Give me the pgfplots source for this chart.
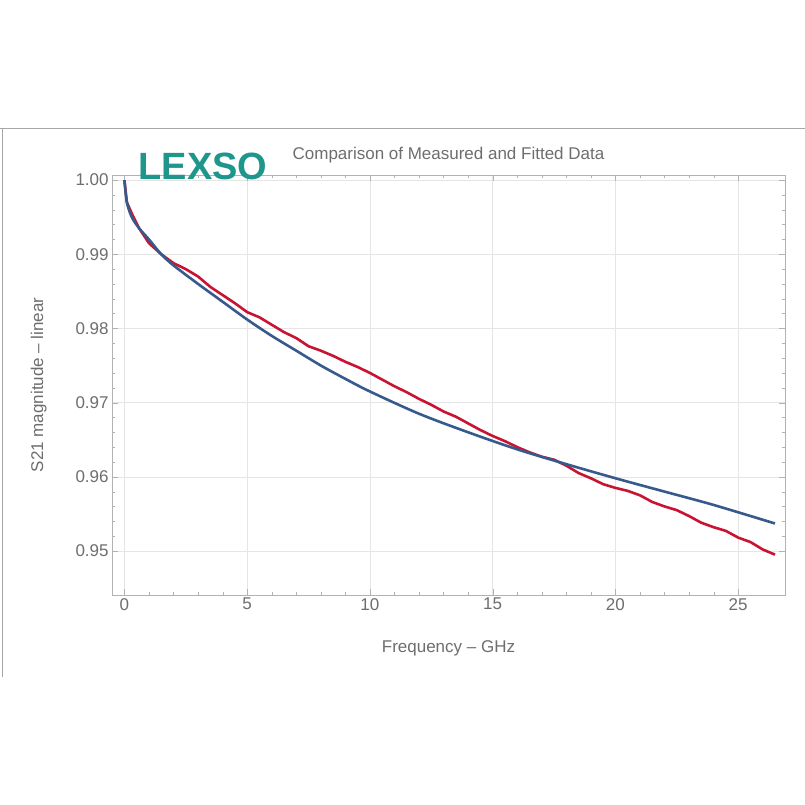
\documentclass[border=0pt]{standalone}
\usepackage{pgfplots}
\pgfplotsset{compat=1.18}
\usepackage{fontspec}
\setmainfont{Liberation Sans}
\definecolor{meas}{RGB}{200,20,50}
\definecolor{fit}{RGB}{55,90,140}
\definecolor{tx}{RGB}{110,110,110}
\definecolor{logo}{RGB}{30,150,140}
\begin{document}
\begin{tikzpicture}[x=1pt,y=1pt]
\fill[white] (0,0) rectangle (805,805);
\draw[gray!70] (0,677) -- (805,677);
\draw[gray!70] (2,677) -- (2,128);
\begin{axis}[at={(112pt,210pt)},anchor=south west,
 width=673pt,height=420pt,scale only axis,
 xmin=-0.5,xmax=26.9,ymin=0.9441,ymax=1.0007,
 xtick={0,5,10,15,20,25},ytick={0.95,0.96,0.97,0.98,0.99,1.00},
 yticklabel style={/pgf/number format/.cd,fixed,fixed zerofill,precision=2},
 /pgf/number format/assume math mode=true,
 grid=major,grid style={gray!20},
 axis line style={gray!60},tick style={gray!60},
 minor x tick num=4, minor y tick num=4, minor tick length=3pt, major tick length=6pt,
 tick align=inside,
 ticklabel style={font=\fontsize{17}{20}\selectfont,text=tx},
 xlabel={Frequency -- GHz},ylabel={S21 magnitude -- linear},
 label style={font=\fontsize{17}{20}\selectfont,text=tx},
 xlabel style={yshift=-24pt},
 ylabel style={yshift=22pt},
 title={Comparison of Measured and Fitted Data},
 title style={font=\fontsize{17}{20}\selectfont,text=tx,yshift=2pt},
]
\addplot[meas,line width=2.6pt] coordinates {
(0,1.0)(0.1,0.997)(0.3,0.9955)(0.6,0.9935)(1,0.9915)(1.5,0.9900)(2,0.9888)(2.5,0.9880)(3,0.9870)(3.5,0.9856)(4,0.9845)(4.5,0.9834)(5,0.9822)(5.5,0.9815)(6,0.9805)(6.5,0.9795)(7,0.9787)(7.5,0.9776)(8,0.9770)(8.5,0.9763)(9,0.9755)(9.5,0.9748)(10,0.9740)(10.5,0.9731)(11,0.9722)(11.5,0.9714)(12,0.9705)(12.5,0.9697)(13,0.9688)(13.5,0.9681)(14,0.9672)(14.5,0.9663)(15,0.9655)(15.5,0.9648)(16,0.9640)(16.5,0.9633)(17,0.9627)(17.5,0.9623)(18,0.9615)(18.5,0.9605)(19,0.9598)(19.5,0.9590)(20,0.9585)(20.5,0.9581)(21,0.9575)(21.5,0.9566)(22,0.9560)(22.5,0.9555)(23,0.9547)(23.5,0.9538)(24,0.9532)(24.5,0.9527)(25,0.9518)(25.5,0.9512)(26,0.9502)(26.5,0.9495)};
\addplot[fit,line width=2.6pt,smooth] coordinates {
(0,1.0)(0.1,0.997)(0.3,0.995)(0.6,0.9935)(1,0.992)(1.5,0.9900)(2,0.9885)(3,0.9860)(4,0.9836)(5,0.9812)(6,0.9790)(7,0.9770)(8,0.9750)(9,0.9732)(10,0.9715)(12,0.9685)(14,0.9660)(16,0.9637)(18,0.9617)(20,0.9598)(22,0.9580)(24,0.9562)(26.5,0.9537)};
\end{axis}
\node[text=logo,font=\fontsize{38}{38}\selectfont\bfseries,anchor=west] at (135,638) {LEXSO};
\end{tikzpicture}
\end{document}
